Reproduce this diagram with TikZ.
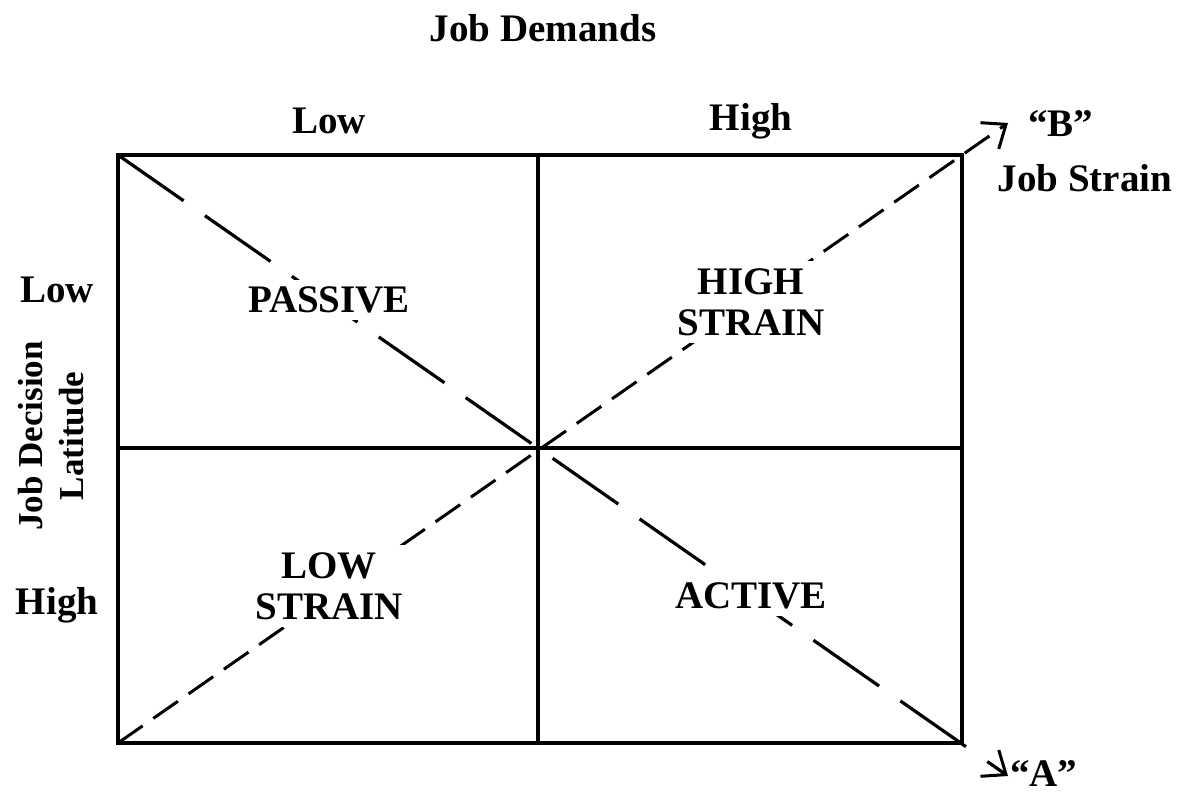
\documentclass[tikz,border=0pt]{standalone}
\usepackage{fontspec}
\setmainfont{Liberation Serif}
\usetikzlibrary{arrows.meta}
\begin{document}
\begin{tikzpicture}[x=1pt,y=-1pt,
  lbl/.style={font=\fontsize{39}{41}\selectfont\bfseries, inner sep=0pt, align=center},
  cell/.style={lbl, fill=white, inner sep=7pt},
  frame/.style={line width=3.2pt},
  tip/.style={-{Straight Barb[length=20pt,width=32pt,line width=3pt]}},
  diagA/.style={line width=3.2pt, dash pattern=on 80pt off 26pt, tip},
  diagB/.style={line width=3pt, dash pattern=on 30pt off 13pt, tip}]
\useasboundingbox (0,0) rectangle (1185,799);
\coordinate (tl) at (118,155);
\coordinate (tr) at (962,155);
\coordinate (bl) at (118,743);
\coordinate (br) at (962,743);
\coordinate (tm) at (538,155);
\coordinate (bm) at (538,743);
\coordinate (lm) at (118,448);
\coordinate (rm) at (962,448);
\coordinate (endA) at (1008,776);
\coordinate (endB) at (1008,123);
% diagonals
\draw[diagA] (tl) -- (endA);
\draw[diagB] (bl) -- (endB);
% frame
\draw[frame] (tl) rectangle (br);
\draw[frame] (tm) -- (bm);
\draw[frame] (lm) -- (rm);
% cell labels
\node[cell] (passive) at (329,300) {PASSIVE};
\node[cell] (highstrain) at (751,302) {HIGH\\STRAIN};
\node[cell] (lowstrain) at (329,586) {LOW\\STRAIN};
\node[cell] (active) at (751,596) {ACTIVE};
% axis labels
\node[lbl] (jd) at (543,28) {Job Demands};
\node[lbl] (jdlow) at (329,121) {Low};
\node[lbl] (jdhigh) at (751,121) {High};
\node[lbl, font=\fontsize{35}{41}\selectfont\bfseries] (jdl) at (51,436) [rotate=90] {Job Decision\\Latitude};
\node[lbl] (latlow) at (57,290) {Low};
\node[lbl] (lathigh) at (57,605) {High};
\node[lbl, anchor=west] (B) at (1028,124) {“B”};
\node[lbl] (js) at (1085,178) {Job Strain};
\node[lbl, anchor=west] (A) at (1010,774) {“A”};
\end{tikzpicture}
\end{document}
